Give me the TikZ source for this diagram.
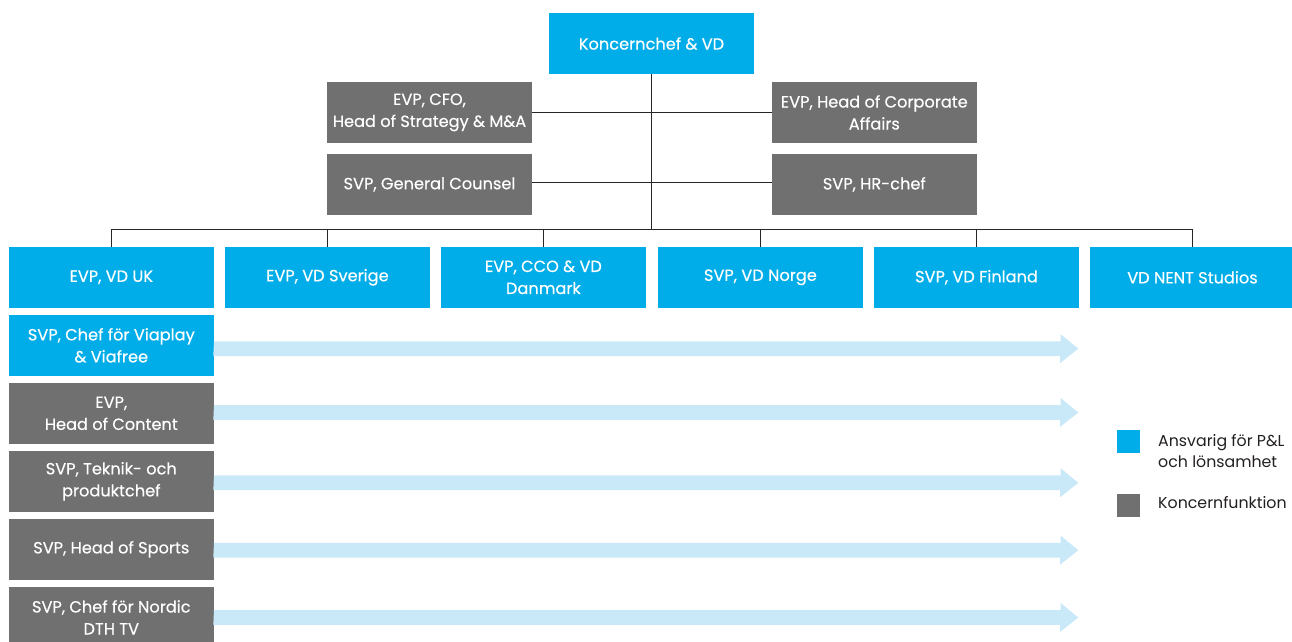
\documentclass[tikz,border=0pt]{standalone}
\usepackage{fontspec}
\setmainfont{Poppins}
\newfontfamily\boxfont[FakeBold=0.35]{Poppins}
\definecolor{nblue}{HTML}{00ADE8}
\definecolor{ngrey}{HTML}{6F706F}
\definecolor{nlight}{HTML}{C9E9F8}
\definecolor{ntext}{HTML}{231F20}
\begin{document}
\begin{tikzpicture}[x=1pt,y=-1pt,
  box/.style={rectangle, minimum width=205, minimum height=60.7, inner sep=0, align=center, text=white, font=\boxfont\fontsize{16.2}{22}\selectfont},
  pl/.style={box, fill=nblue},
  gf/.style={box, fill=ngrey},
  conn/.style={draw=black!85, line width=1.2pt},
  band/.style={fill=nlight},
  legtext/.style={anchor=west, inner sep=0, align=left, text=ntext, font=\fontsize{15.8}{21.5}\selectfont}]
\useasboundingbox (0,0) rectangle (1292,641);
% top
\node[pl, minimum height=60.4] (ceo) at (651.5,43.5) {Koncernchef \& VD};
\node[gf] (cfo) at (429.5,112.4) {EVP, CFO,\\Head of Strategy \& M\&A};
\node[gf] (corp) at (874.3,112.4) {EVP, Head of Corporate\\Affairs};
\node[gf] (gc) at (429.5,184.4) {SVP, General Counsel};
\node[gf] (hr) at (874.3,184.4) {SVP, HR-chef};
% row
\node[pl] (uk) at (111.3,277.3) {EVP, VD UK};
\node[pl] (se) at (327.4,277.3) {EVP, VD Sverige};
\node[pl] (dk) at (543.4,277.3) {EVP, CCO \& VD\\Danmark};
\node[pl] (no) at (760.4,277.3) {SVP, VD Norge};
\node[pl] (fi) at (976.5,277.3) {SVP, VD Finland};
\node[pl] (st) at (1192.5,277.3) {VD NENT Studios};
% left column
\node[pl] (vp) at (111.3,345.3) {SVP, Chef för Viaplay\\\& Viafree};
\node[gf] (hc) at (111.3,413.3) {EVP,\\Head of Content};
\node[gf] (tp) at (111.3,481.3) {SVP, Teknik- och\\produktchef};
\node[gf] (hs) at (111.3,549.3) {SVP, Head of Sports};
\node[gf] (dth) at (111.3,617.3) {SVP, Chef för Nordic\\DTH TV};
% connectors
\coordinate (bus) at (651.5,229.3);
\coordinate (busL) at (111.3,229.3);
\coordinate (busR) at (1192.5,229.3);
\draw[conn] (ceo.south) -- (bus);
\draw[conn] (cfo.east |- 0,112.7) -- (corp.west |- 0,112.7);
\draw[conn] (gc.east |- 0,182.7) -- (hr.west |- 0,182.7);
\draw[conn] (uk.north) -- (busL) -- (busR) -- (st.north);
\foreach \n in {se,dk,no,fi}{\draw[conn] (\n.north) -- (\n.north |- bus);}
% arrows
\foreach \n/\yy in {vp/348.7, hc/412.5, tp/482.8, hs/550.2, dth/617.5}{
  \coordinate (\n tip) at (1078.3,\yy);
  \fill[band] (\n.east |- 0,\yy) ++(0,-7.4) -- ++(846.7,0) -- ++(0,-7.1) -- (\n tip) -- ++(-18.3,14.5) -- ++(0,-7.1) -- ++(-846.7,0) -- cycle;
}
% legend
\node[fill=nblue, minimum width=23, minimum height=22.7, inner sep=0] (lb) at (1128.5,441.3) {};
\node[fill=ngrey, minimum width=23, minimum height=22.7, inner sep=0] (lg) at (1128.5,505.3) {};
\node[legtext] (lbt) at (1158,451) {Ansvarig för P\&L\\och lönsamhet};
\node[legtext] (lgt) at (1158,503) {Koncernfunktion};
\end{tikzpicture}
\end{document}
